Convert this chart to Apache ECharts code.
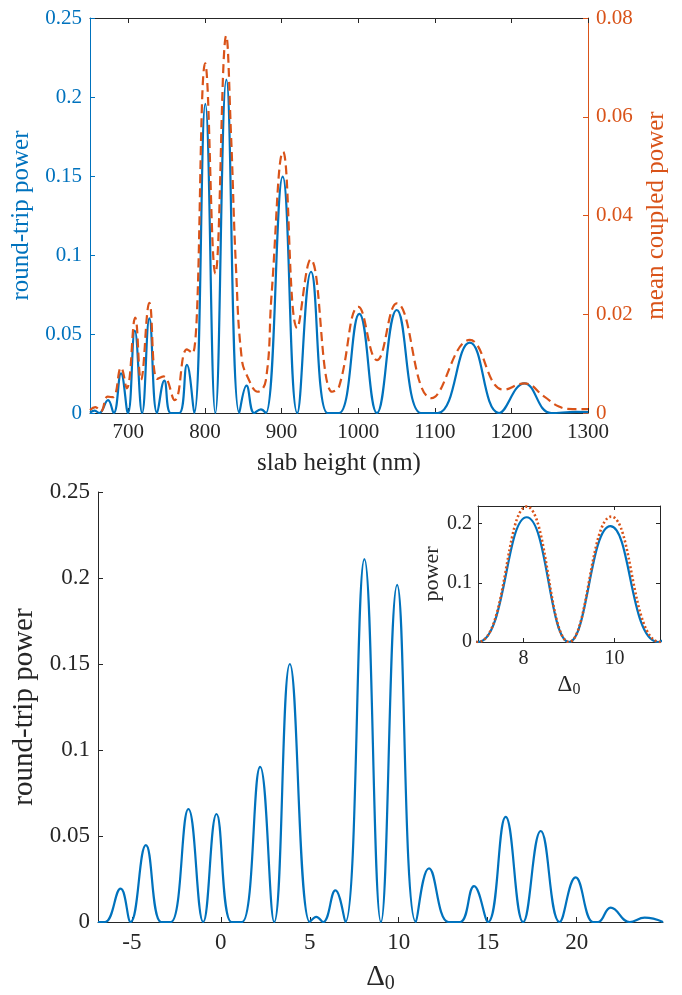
<!DOCTYPE html>
<html>
<head>
<meta charset="utf-8">
<script src="https://cdn.jsdelivr.net/npm/echarts@6/dist/echarts.min.js"></script>
<style>
html, body { margin: 0; padding: 0; background: #fff; }
#chart { width: 682px; height: 995px; }
</style>
</head>
<body>
<div id="chart"></div>
<script>
// top panel: round-trip power (left axis) vs slab height
var slabHeight = [650, 656, 662, 673.5, 681, 690.5, 699.5, 708.5, 718, 727.5, 737.5, 747, 755.5, 766.5, 776.5, 786,
    800.5, 813.6, 828, 844.8, 854.3, 864.3, 873, 879.5, 901.5, 920.5, 938.5, 960, 975, 1001.5, 1024.5, 1050.4,
    1082, 1104, 1145.7, 1184, 1217, 1252, 1285, 1300];
var roundTripTop = [0.0003, 0.0015, 0, 0.0082, 0, 0.0251, 0, 0.0521, 0, 0.0599, 0, 0.0205, 0, 0, 0.0304, 0,
    0.1956, 0, 0.211, 0, 0.0173, 0, 0.0023, 0, 0.1496, 0, 0.0894, 0, 0, 0.0627, 0, 0.0652,
    0, 0, 0.0445, 0, 0.0188, 0, 0.0007, 0.0005];

// top panel: mean coupled power (right axis)
var coupledHeight = [650, 657, 664, 673, 680, 690.5, 698, 709, 716.5, 727.5, 737.5, 746, 760.5, 776.5, 784,
    800.3, 813.6, 827.8, 834, 840.5, 848, 856, 869, 879.5, 887, 902, 920.5, 938, 966, 975, 1000.6, 1024.5,
    1050.4, 1095.8, 1145.7, 1190, 1217, 1243, 1262, 1280, 1300];
var coupledPower = [0.0006, 0.0012, 0.0003, 0.0033, 0.0032, 0.0092, 0.0050, 0.0193, 0.0067, 0.0223, 0.0069, 0.0074, 0.0026, 0.0129, 0.0121,
    0.0708, 0.0282, 0.0764, 0.0566, 0.0296, 0.0111, 0.0072, 0.0043, 0.0066, 0.024, 0.0529, 0.0172, 0.0311, 0.0043, 0.0053, 0.0215, 0.0107,
    0.0222, 0.0030, 0.0148, 0.0047, 0.0060, 0.0033, 0.0013, 0.0008, 0.0008];

// bottom panel (and inset solid curve): round-trip power vs detuning
var detuning = [-6.9, -6.5, -5.63, -5.07, -4.21, -3.35, -2.8, -1.82, -0.99, -0.24, 0.6, 1.2, 2.21, 3.0, 3.88, 5.0, 5.37, 5.75,
    6.44, 7.0, 8.07, 9.0, 9.91, 10.96, 11.7, 12.8, 13.45, 14.23, 15.02, 16.01, 16.99, 17.98, 19.04, 19.94, 20.92, 21.2,
    21.91, 22.98, 23.82, 24.85];
var roundTripBottom = [0, 0, 0.0194, 0, 0.0447, 0, 0, 0.0657, 0, 0.0628, 0, 0, 0.0902, 0, 0.150, 0, 0.003, 0,
    0.0184, 0, 0.211, 0, 0.196, 0, 0.0312, 0, 0, 0.0209, 0, 0.0611, 0, 0.0529, 0, 0.0259, 0, 0,
    0.0084, 0, 0.0025, 0];

// inset dotted curve
var insetDetuningDot = [6.44, 7.0, 8.07, 9.0, 9.93, 11.0, 11.7];
var insetPowerDot = [0.02, 0, 0.229, 0, 0.212, 0, 0.033];

var slabTicks = [700, 800, 900, 1000, 1100, 1200, 1300];
var detuningTicks = [-5, 0, 5, 10, 15, 20];
var insetTicks = [8, 10];

var BLUE = '#0072BD', ORANGE = '#D95319', INK = '#262626';
var FONT = "'Liberation Serif', 'Times New Roman', serif";

function pairs(xs, ys) {
    return xs.map(function (x, i) { return [x, ys[i]]; });
}

function plain(v) {
    return String(v);
}

function axisBase(color, fontSize) {
    return {
        type: 'value',
        axisLine: { show: true, onZero: false, lineStyle: { color: color, width: 1 } },
        axisTick: { show: true, inside: true, length: 5, lineStyle: { color: color, width: 1 } },
        axisLabel: { show: true, color: color, fontFamily: FONT, fontSize: fontSize, formatter: plain },
        splitLine: { show: false },
        nameTextStyle: { color: color, fontFamily: FONT }
    };
}

function extend(a, b) {
    for (var k in b) a[k] = b[k];
    return a;
}

function deltaName(big, small, pad) {
    return {
        name: '{d|Δ}{s|0}',
        nameTextStyle: {
            fontFamily: FONT,
            rich: {
                d: { fontSize: big, fontFamily: FONT, color: INK },
                s: { fontSize: small, fontFamily: FONT, color: INK, padding: [pad, 0, 0, 0] }
            }
        }
    };
}

var xAxes = [
    // 0: top panel bottom
    extend(axisBase(INK, 21), {
        gridIndex: 0, position: 'bottom', min: 650, max: 1300,
        name: 'slab height (nm)', nameLocation: 'middle', nameGap: 38,
        nameTextStyle: { color: INK, fontFamily: FONT, fontSize: 25 },
        axisTick: { inside: true, length: 5, customValues: slabTicks, lineStyle: { color: INK } },
        axisLabel: { color: INK, fontFamily: FONT, fontSize: 21, margin: 9, customValues: slabTicks, formatter: plain }
    }),
    // 1: top panel top frame
    extend(axisBase(INK, 21), {
        gridIndex: 0, position: 'top', min: 650, max: 1300,
        axisTick: { inside: true, length: 5, customValues: slabTicks, lineStyle: { color: INK } },
        axisLabel: { show: false }
    }),
    // 2: bottom panel
    extend(axisBase(INK, 23), {
        gridIndex: 1, position: 'bottom', min: -6.9, max: 24.85,
        nameLocation: 'middle', nameGap: 38,
        axisTick: { inside: true, length: 5, customValues: detuningTicks, lineStyle: { color: INK } },
        axisLabel: { color: INK, fontFamily: FONT, fontSize: 23, margin: 9, customValues: detuningTicks, formatter: plain }
    }),
    // 3: inset bottom
    extend(axisBase(INK, 20), {
        gridIndex: 2, position: 'bottom', min: 7, max: 11,
        nameLocation: 'middle', nameGap: 29,
        axisTick: { inside: true, length: 4, customValues: insetTicks, lineStyle: { color: INK } },
        axisLabel: { color: INK, fontFamily: FONT, fontSize: 20, margin: 7, customValues: insetTicks, formatter: plain }
    }),
    // 4: inset top frame
    extend(axisBase(INK, 20), {
        gridIndex: 2, position: 'top', min: 7, max: 11,
        axisTick: { inside: true, length: 4, customValues: insetTicks, lineStyle: { color: INK } },
        axisLabel: { show: false }
    })
];
extend(xAxes[2], deltaName(29, 20, 14));
extend(xAxes[3], deltaName(23, 16, 11));

var yAxes = [
    extend(axisBase(BLUE, 21), {
        gridIndex: 0, position: 'left', min: 0, max: 0.25, interval: 0.05,
        name: 'round-trip power', nameLocation: 'middle', nameGap: 44,
        nameTextStyle: { color: BLUE, fontFamily: FONT, fontSize: 25 }
    }),
    extend(axisBase(ORANGE, 21), {
        gridIndex: 0, position: 'right', min: 0, max: 0.08, interval: 0.02,
        name: 'mean coupled power', nameLocation: 'middle', nameGap: 51,
        nameTextStyle: { color: ORANGE, fontFamily: FONT, fontSize: 25 }
    }),
    extend(axisBase(INK, 23), {
        gridIndex: 1, position: 'left', min: 0, max: 0.25, interval: 0.05,
        name: 'round-trip power', nameLocation: 'middle', nameGap: 55,
        nameTextStyle: { color: INK, fontFamily: FONT, fontSize: 29 }
    }),
    extend(axisBase(INK, 20), {
        gridIndex: 2, position: 'left', min: 0, max: 0.23, interval: 0.1,
        name: 'power', nameLocation: 'middle', nameGap: 33,
        nameTextStyle: { color: INK, fontFamily: FONT, fontSize: 22 },
        axisTick: { inside: true, length: 4, lineStyle: { color: INK } },
        axisLabel: { color: INK, fontFamily: FONT, fontSize: 20, margin: 6, formatter: plain }
    }),
    extend(axisBase(INK, 20), {
        gridIndex: 2, position: 'right', min: 0, max: 0.23, interval: 0.1,
        axisTick: { inside: true, length: 4, lineStyle: { color: INK } },
        axisLabel: { show: false }
    })
];

function lineSeries(x, y, data, color, type, width) {
    return {
        type: 'line', xAxisIndex: x, yAxisIndex: y, data: data,
        showSymbol: false, smooth: 0.45, silent: true,
        lineStyle: { color: color, width: width || 2.2, type: type || 'solid' },
        z: type ? 3 : 2
    };
}

var chart = echarts.init(document.getElementById('chart'), null, { renderer: 'canvas' });
chart.setOption({
    animation: false,
    backgroundColor: '#fff',
    grid: [
        { left: 90, top: 18, width: 498, height: 395 },
        { left: 98, top: 492, width: 565, height: 435 },
        { left: 478, top: 506, width: 182, height: 136 }
    ],
    xAxis: xAxes,
    yAxis: yAxes,
    series: [
        lineSeries(0, 1, pairs(coupledHeight, coupledPower), ORANGE, [9, 5]),
        lineSeries(0, 0, pairs(slabHeight, roundTripTop), BLUE),
        lineSeries(2, 2, pairs(detuning, roundTripBottom), BLUE),
        lineSeries(3, 3, pairs(detuning, roundTripBottom), BLUE),
        lineSeries(3, 3, pairs(insetDetuningDot, insetPowerDot), ORANGE, [2, 2.4], 2.6)
    ]
});
</script>
</body>
</html>
